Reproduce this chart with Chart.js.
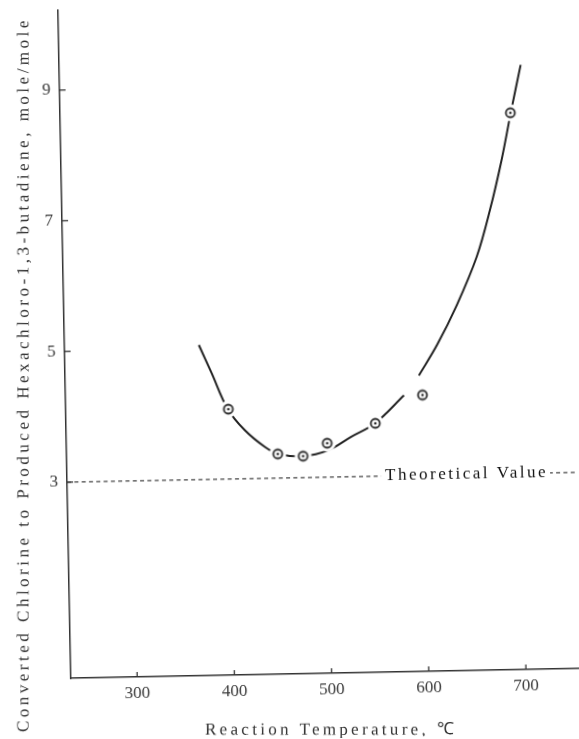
<!DOCTYPE html>
<html><head><meta charset="utf-8">
<script src="https://cdn.jsdelivr.net/npm/chart.js@4.4.1/dist/chart.umd.min.js"></script>
<style>
html,body{margin:0;padding:0;background:#fff;overflow:hidden;width:579px;height:739px;}
#wrap{position:absolute;left:0;top:0;width:579px;height:739px;transform:rotate(-1.1deg);transform-origin:289.5px 369.5px;}
canvas{display:block;}
</style></head><body>
<div id="wrap"><canvas id="c" width="579" height="739"></canvas></div>
<script>
// ---- data ----
const temperatures = [399, 449, 475, 500, 550, 599, 695];
const ratios       = [4.07, 3.37, 3.33, 3.52, 3.81, 4.23, 8.52];
const curveTemps   = [370, 382.5, 398.5, 415.8, 436, 449.4, 474.9, 500.6, 524.6, 549.6, 580, 588, 595.7, 615, 636, 657.6, 672.1, 685, 695.4, 706.5];
const curveRatios  = [5.06, 4.63, 4.07, 3.74, 3.48, 3.37, 3.33, 3.41, 3.61, 3.81, 4.23, null, 4.53, 4.99, 5.59, 6.33, 7.04, 7.80, 8.52, 9.25];
const theoreticalValue = 3;
const xRange = [231.8, 754.4];
const yRange = [0, 10.22];
const xTicks = [300, 400, 500, 600, 700];
const yTicks = [3, 5, 7, 9];
const xTitle = 'Reaction Temperature, ℃';
const yTitle = 'Converted Chlorine to Produced Hexachloro-1,3-butadiene, mole/mole';
const annotationText = 'Theoretical Value';
const annotationStart = 559;

const ROT = 1.1 * Math.PI / 180;
const FONT = 'Liberation Serif';

function makeMarker(){
  const s = 20, c = document.createElement('canvas');
  c.width = s; c.height = s;
  const g = c.getContext('2d');
  g.fillStyle = '#fff'; g.beginPath(); g.arc(10,10,8.5,0,2*Math.PI); g.fill();
  g.strokeStyle = '#262626'; g.lineWidth = 1.8; g.beginPath(); g.arc(10,10,4.5,0,2*Math.PI); g.stroke();
  g.fillStyle = '#262626'; g.beginPath(); g.arc(10,10,1.3,0,2*Math.PI); g.fill();
  return c;
}

function setSpacing(ctx, text, target){
  if (!('letterSpacing' in ctx)) return;
  ctx.letterSpacing = '0px';
  const w = ctx.measureText(text).width;
  ctx.letterSpacing = Math.max(0, (target - w) / text.length) + 'px';
}

const decor = {
  id: 'decor',
  afterDraw(chart){
    const {ctx, scales:{x, y}} = chart;
    const bottom = y.getPixelForValue(yRange[0]);
    const left = x.getPixelForValue(xRange[0]);
    ctx.save();
    ctx.strokeStyle = '#333'; ctx.lineWidth = 1.3;
    xTicks.forEach(v => { const px = x.getPixelForValue(v); ctx.beginPath(); ctx.moveTo(px, bottom); ctx.lineTo(px, bottom-5); ctx.stroke(); });
    yTicks.forEach(v => { const py = y.getPixelForValue(v); ctx.beginPath(); ctx.moveTo(left, py); ctx.lineTo(left+6, py); ctx.stroke(); });
    // annotation
    ctx.font = '17px "' + FONT + '"';
    setSpacing(ctx, annotationText, 163);
    const tw = ctx.measureText(annotationText).width;
    const ax = x.getPixelForValue(annotationStart), ay = y.getPixelForValue(theoreticalValue);
    ctx.fillStyle = '#fff'; ctx.fillRect(ax - 4, ay - 9, tw + 6, 18);
    ctx.fillStyle = '#111'; ctx.textAlign = 'left'; ctx.textBaseline = 'middle';
    ctx.fillText(annotationText, ax, ay);
    // x title
    ctx.save();
    ctx.translate(324, 731); ctx.rotate(ROT);
    ctx.font = '17px "' + FONT + '"'; setSpacing(ctx, xTitle, 252);
    ctx.fillStyle = '#333'; ctx.textAlign = 'center'; ctx.textBaseline = 'middle';
    ctx.fillText(xTitle, 0, 0);
    ctx.restore();
    // y title
    ctx.save();
    ctx.translate(24, 369.5); ctx.rotate(-Math.PI/2 + ROT);
    ctx.font = '17px "' + FONT + '"'; setSpacing(ctx, yTitle, 715);
    ctx.fillStyle = '#333'; ctx.textAlign = 'center'; ctx.textBaseline = 'middle';
    ctx.fillText(yTitle, 0, 0);
    ctx.restore();
    ctx.restore();
  }
};

function noPad(s){ s.paddingTop = 0; s.paddingBottom = 0; s.paddingLeft = 0; s.paddingRight = 0; }

new Chart(document.getElementById('c'), {
  type: 'scatter',
  data: {
    datasets: [
      { label: 'Measured', order: 0,
        data: temperatures.map((t,i) => ({x:t, y:ratios[i]})),
        pointStyle: makeMarker(), pointRadius: 5, showLine: false },
      { label: 'Curve', order: 1, type: 'line',
        data: curveTemps.map((t,i) => ({x:t, y:curveRatios[i]})),
        borderColor: '#222', borderWidth: 2, pointRadius: 0, fill: false,
        tension: 0.35, spanGaps: false },
      { label: 'Theoretical', order: 2, type: 'line',
        data: [{x:xRange[0], y:theoreticalValue}, {x:xRange[1], y:theoreticalValue}],
        borderColor: '#444', borderWidth: 1.2, borderDash: [4, 3.3], pointRadius: 0, fill: false }
    ]
  },
  options: {
    responsive: false, animation: false, devicePixelRatio: 1,
    layout: { padding: { left: 0, right: 0, top: 5, bottom: 0 } },
    plugins: { legend: { display: false }, tooltip: { enabled: false } },
    scales: {
      x: { type: 'linear', min: xRange[0], max: xRange[1],
        afterBuildTicks: s => { s.ticks = xTicks.map(v => ({value: v})); },
        afterFit: s => { s.height = 65; noPad(s); },
        grid: { drawOnChartArea: false, drawTicks: false },
        border: { display: true, color: '#333', width: 1.5 },
        ticks: { padding: 6, color: '#3a3a3a', font: { family: FONT, size: 17 }, maxRotation: 0 } },
      y: { type: 'linear', min: yRange[0], max: yRange[1],
        afterBuildTicks: s => { s.ticks = yTicks.map(v => ({value: v})); },
        afterFit: s => { s.width = 65; noPad(s); },
        grid: { drawOnChartArea: false, drawTicks: false },
        border: { display: true, color: '#333', width: 1.5 },
        ticks: { padding: 9, color: '#3a3a3a', font: { family: FONT, size: 17 } } }
    }
  },
  plugins: [decor]
});
</script>
</body></html>
